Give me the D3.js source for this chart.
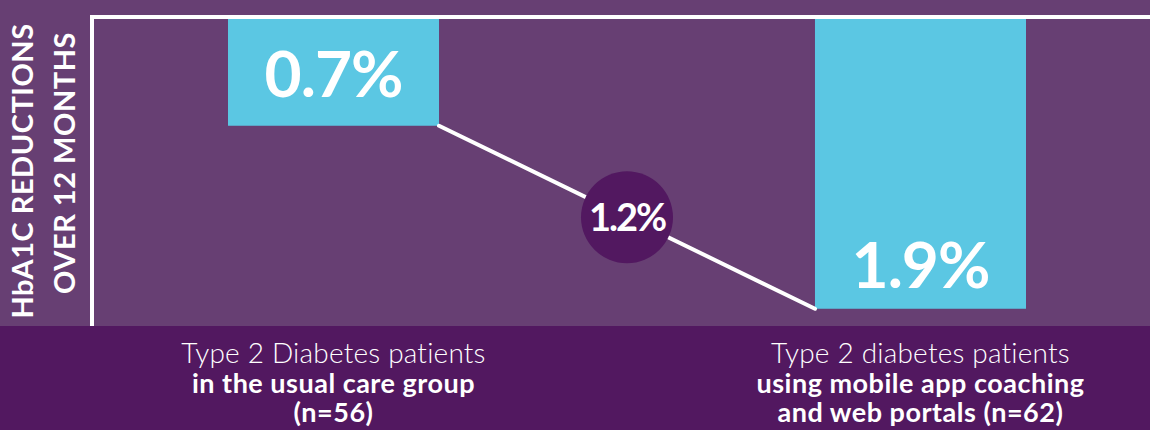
<!DOCTYPE html>
<html><head><meta charset="utf-8">
<script src="https://cdn.jsdelivr.net/npm/d3@7"></script>
<style>
html,body{margin:0;padding:0;background:#673f73;}
svg{display:block;}
text{font-family:Lato,"Open Sans",sans-serif;fill:#fff;}
</style></head>
<body>
<svg id="c" width="1150" height="430"></svg>
<script>
const categories = ["usual", "app"];
const values = [0.7, 1.9];
const valueLabels = ["0.7%", "1.9%"];
const differenceLabel = "1.2%";
const yTitle = ["HbA1C REDUCTIONS", "OVER 12 MONTHS"];
const categoryLabels = [
  ["Type 2 Diabetes patients", "in the usual care group", "(n=56)"],
  ["Type 2 diabetes patients", "using mobile app coaching", "and web portals (n=62)"]
];

const W = 1150, H = 430;
const svg = d3.select("#c");
const bg = "#673f73", dark = "#521860", cyan = "#5bc7e3";

svg.append("rect").attr("width", W).attr("height", H).attr("fill", bg);
svg.append("rect").attr("x", 0).attr("y", 326).attr("width", W).attr("height", H - 326).attr("fill", dark);

const x = d3.scaleBand().domain(categories).range([94, 1160]).paddingInner(0.6405).paddingOuter(0.2283);
const y = d3.scaleLinear().domain([0, 2]).range([19, 324]);

// bars
svg.selectAll("rect.bar").data(values).join("rect").attr("class", "bar")
  .attr("x", (d, i) => x(categories[i]))
  .attr("y", y(0))
  .attr("width", x.bandwidth())
  .attr("height", d => y(d) - y(0))
  .attr("fill", cyan);

// axes lines
svg.append("line").attr("x1", 90).attr("x2", W).attr("y1", 17).attr("y2", 17)
  .attr("stroke", "#fff").attr("stroke-width", 4);
svg.append("line").attr("x1", 92).attr("x2", 92).attr("y1", 15).attr("y2", 326)
  .attr("stroke", "#fff").attr("stroke-width", 4);

// connector line
const p1 = [x(categories[0]) + x.bandwidth(), y(values[0])];
const p2 = [x(categories[1]), y(values[1])];
svg.append("line").attr("x1", p1[0]).attr("y1", p1[1]).attr("x2", p2[0]).attr("y2", p2[1])
  .attr("stroke", "#fff").attr("stroke-width", 4).attr("stroke-linecap", "round");

const mx = (p1[0] + p2[0]) / 2, my = (p1[1] + p2[1]) / 2;
svg.append("circle").attr("cx", mx).attr("cy", my).attr("r", 46).attr("fill", dark);
svg.append("text").attr("x", mx).attr("y", my + 14).attr("text-anchor", "middle")
  .attr("font-size", 38).attr("font-weight", 700).attr("letter-spacing", -2).text(differenceLabel);

// value labels
svg.append("text").attr("x", x(categories[0]) + x.bandwidth() / 2).attr("y", 97)
  .attr("text-anchor", "middle").attr("font-size", 64).attr("font-weight", 700).attr("letter-spacing", -1)
  .text(valueLabels[0]);
svg.append("text").attr("x", x(categories[1]) + x.bandwidth() / 2).attr("y", 288)
  .attr("text-anchor", "middle").attr("font-size", 64).attr("font-weight", 700).attr("letter-spacing", -1)
  .text(valueLabels[1]);

// y title
const yt = svg.append("g");
yt.append("text").attr("transform", "translate(33,171) rotate(-90)").attr("text-anchor", "middle")
  .attr("font-size", 29).attr("font-weight", 700).attr("letter-spacing", 0.5).text(yTitle[0]);
yt.append("text").attr("transform", "translate(75,163) rotate(-90)").attr("text-anchor", "middle")
  .attr("font-size", 29).attr("font-weight", 700).attr("letter-spacing", 0.5).text(yTitle[1]);

// category labels
categoryLabels.forEach((lines, i) => {
  const cx = x(categories[i]) + x.bandwidth() / 2;
  lines.forEach((t, j) => {
    svg.append("text").attr("x", cx).attr("y", 363 + j * 29.5).attr("text-anchor", "middle")
      .attr("font-size", j === 0 ? 28 : 27).attr("font-weight", j === 0 ? 300 : 700)
      .attr("letter-spacing", j === 0 ? 0.2 : 0.5).text(t);
  });
});
</script>
</body></html>
